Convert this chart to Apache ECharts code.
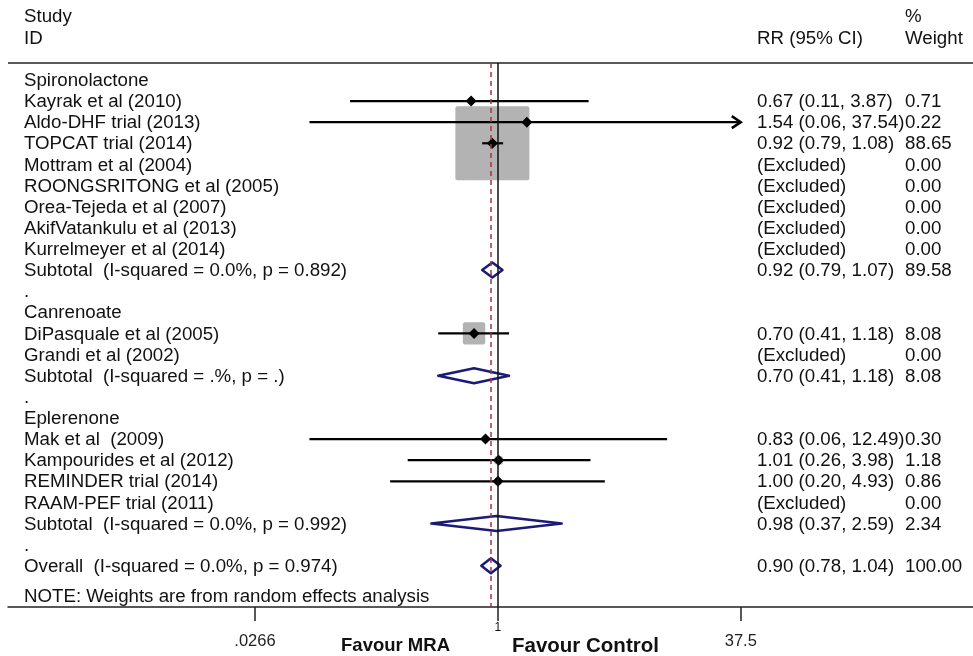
<!DOCTYPE html>
<html><head><meta charset="utf-8">
<script src="https://cdn.jsdelivr.net/npm/echarts@6/dist/echarts.min.js"></script>
<style>html,body{margin:0;padding:0;background:#fff}#c{width:973px;height:656px}</style>
</head><body><div id="c"></div>
<script>
// ---- data ----
const studyLabels = [
  'Spironolactone',
  'Kayrak et al (2010)',
  'Aldo-DHF trial (2013)',
  'TOPCAT trial (2014)',
  'Mottram et al (2004)',
  'ROONGSRITONG et al (2005)',
  'Orea-Tejeda et al (2007)',
  'AkifVatankulu et al (2013)',
  'Kurrelmeyer et al (2014)',
  'Subtotal  (I-squared = 0.0%, p = 0.892)',
  '.',
  'Canrenoate',
  'DiPasquale et al (2005)',
  'Grandi et al (2002)',
  'Subtotal  (I-squared = .%, p = .)',
  '.',
  'Eplerenone',
  'Mak et al  (2009)',
  'Kampourides et al (2012)',
  'REMINDER trial (2014)',
  'RAAM-PEF trial (2011)',
  'Subtotal  (I-squared = 0.0%, p = 0.992)',
  '.',
  'Overall  (I-squared = 0.0%, p = 0.974)'
];
const rowKinds = [
  'group','study','study','study','study','study','study','study','study','subtotal','blank',
  'group','study','study','subtotal','blank',
  'group','study','study','study','study','subtotal','blank','overall'
];
const estimates = [null,0.67,1.54,0.92,null,null,null,null,null,0.92,null,null,0.70,null,0.70,null,null,0.83,1.01,1.00,null,0.98,null,0.90];
const lowerCI   = [null,0.11,0.06,0.79,null,null,null,null,null,0.79,null,null,0.41,null,0.41,null,null,0.06,0.26,0.20,null,0.37,null,0.78];
const upperCI   = [null,3.87,37.54,1.08,null,null,null,null,null,1.07,null,null,1.18,null,1.18,null,null,12.49,3.98,4.93,null,2.59,null,1.04];
const weights   = [null,0.71,0.22,88.65,0,0,0,0,0,89.58,null,null,8.08,0,8.08,null,null,0.30,1.18,0.86,0,2.34,null,100.00];
const tickValues = [0.0266, 1, 37.5];
const tickLabels = ['.0266', '1', '37.5'];
const headerStudy = ['Study', 'ID'];
const headerRR = 'RR (95% CI)';
const headerWeight = ['%', 'Weight'];
const noteText = 'NOTE: Weights are from random effects analysis';
const favourLeft = 'Favour MRA';
const favourRight = 'Favour Control';

// ---- helpers ----
const FONT = '"Liberation Sans", Arial, sans-serif';
const FS = '18.7px ';
const TXT = '#111';
const NAVY = '#1a1a7a';
function rrText(i) {
  if (rowKinds[i] === 'group' || rowKinds[i] === 'blank') return '';
  if (estimates[i] == null) return '(Excluded)';
  return estimates[i].toFixed(2) + ' (' + lowerCI[i].toFixed(2) + ', ' + upperCI[i].toFixed(2) + ')';
}
function weightText(i) {
  return weights[i] == null ? '' : weights[i].toFixed(2);
}
const studyRows = [], pooledRows = [], allRows = [];
studyLabels.forEach((lab, i) => {
  allRows.push([i, 1]);
  if (estimates[i] == null) return;
  const item = [i, estimates[i], lowerCI[i], upperCI[i], weights[i]];
  if (rowKinds[i] === 'study') studyRows.push(item); else pooledRows.push(item);
});
const overallIdx = rowKinds.indexOf('overall');
const xLo = tickValues[0], xHi = tickValues[tickValues.length - 1];
const BOX_K = 7.86;

const chart = echarts.init(document.getElementById('c'), null, {renderer: 'canvas'});
chart.setOption({
  animation: false,
  backgroundColor: '#fff',
  grid: {left: 8, right: 0, top: 63, bottom: 49, containLabel: false},
  xAxis: {
    type: 'log', logBase: Math.E, min: 0.000667, max: 1200, position: 'bottom',
    axisLine: {show: true, onZero: false, lineStyle: {color: '#222', width: 1.5}},
    axisTick: {show: true, customValues: tickValues, length: 14, lineStyle: {color: '#222', width: 1.5}},
    axisLabel: {
      show: true, customValues: tickValues, margin: 15,
      formatter: function (v) {
        let k = 0, best = 1e9;
        tickValues.forEach((t, j) => { const d = Math.abs(Math.log(t) - Math.log(v)); if (d < best) { best = d; k = j; } });
        return tickValues[k] === 1 ? '{one|' + tickLabels[k] + '}' : '{big|' + tickLabels[k] + '}';
      },
      rich: {
        one: {fontSize: 12, fontFamily: FONT, color: TXT},
        big: {fontSize: 16.5, fontFamily: FONT, color: '#222', padding: [11, 0, 0, 0]}
      }
    },
    splitLine: {show: false}
  },
  yAxis: {type: 'value', inverse: true, min: -0.8, max: 24.95, show: false},
  graphic: [
    {type: 'line', shape: {x1: 8, y1: 63, x2: 973, y2: 63}, style: {stroke: '#222', lineWidth: 1.5}},
    {type: 'text', x: 24, y: 17, style: {text: headerStudy[0], font: FS + FONT, fill: TXT, verticalAlign: 'middle'}},
    {type: 'text', x: 24, y: 39, style: {text: headerStudy[1], font: FS + FONT, fill: TXT, verticalAlign: 'middle'}},
    {type: 'text', x: 757, y: 39, style: {text: headerRR, font: FS + FONT, fill: TXT, verticalAlign: 'middle'}},
    {type: 'text', x: 905, y: 17, style: {text: headerWeight[0], font: FS + FONT, fill: TXT, verticalAlign: 'middle'}},
    {type: 'text', x: 905, y: 39, style: {text: headerWeight[1], font: FS + FONT, fill: TXT, verticalAlign: 'middle'}},
    {type: 'text', x: 24, y: 597, style: {text: noteText, font: FS + FONT, fill: TXT, verticalAlign: 'middle'}},
    {type: 'text', x: 450, y: 646, style: {text: favourLeft, font: 'bold 18.5px ' + FONT, fill: TXT, align: 'right', verticalAlign: 'middle'}},
    {type: 'text', x: 512, y: 646, style: {text: favourRight, font: 'bold 20.5px ' + FONT, fill: TXT, verticalAlign: 'middle'}}
  ],
  series: [
    {
      type: 'scatter', data: [], z: 1, silent: true,
      markLine: {
        silent: true, symbol: ['none', 'none'], label: {show: false},
        data: [
          {xAxis: 1, lineStyle: {color: '#111', width: 1.5, type: 'solid'}},
          {xAxis: estimates[overallIdx], lineStyle: {color: '#a8323e', width: 1.5, type: [5, 4]}}
        ]
      }
    },
    {
      type: 'custom', z: 2, silent: true, data: studyRows, encode: {x: [1, 2, 3], y: 0},
      renderItem: function (params, api) {
        const row = api.value(0), est = api.value(1), w = api.value(4);
        const p = api.coord([est, row]);
        const s = BOX_K * Math.sqrt(w);
        return {type: 'rect', shape: {x: p[0] - s / 2, y: p[1] - s / 2, width: s, height: s, r: 2}, style: {fill: '#b3b3b3'}};
      }
    },
    {
      type: 'custom', z: 3, silent: true, data: studyRows, encode: {x: [1, 2, 3], y: 0},
      renderItem: function (params, api) {
        const row = api.value(0), est = api.value(1), lo = api.value(2), hi = api.value(3);
        const pe = api.coord([est, row]);
        const pl = api.coord([Math.max(lo, xLo), row]);
        const ph = api.coord([Math.min(hi, xHi), row]);
        const y = pe[1];
        const ch = [
          {type: 'line', shape: {x1: pl[0], y1: y, x2: ph[0], y2: y}, style: {stroke: '#000', lineWidth: 2.2}},
          {type: 'polygon', shape: {points: [[pe[0] - 5.5, y], [pe[0], y - 5.5], [pe[0] + 5.5, y], [pe[0], y + 5.5]]}, style: {fill: '#000'}}
        ];
        if (hi > xHi) ch.push({type: 'polyline', shape: {points: [[ph[0] - 9, y - 6], [ph[0], y], [ph[0] - 9, y + 6]]}, style: {stroke: '#000', lineWidth: 2.5, fill: 'none'}});
        return {type: 'group', children: ch};
      }
    },
    {
      type: 'custom', z: 4, silent: true, data: pooledRows, encode: {x: [1, 2, 3], y: 0},
      renderItem: function (params, api) {
        const row = api.value(0);
        const pe = api.coord([api.value(1), row]);
        const pl = api.coord([api.value(2), row]);
        const ph = api.coord([api.value(3), row]);
        const y = pe[1], h = 7.5;
        return {type: 'polygon', shape: {points: [[pl[0], y], [pe[0], y - h], [ph[0], y], [pe[0], y + h]]},
          style: {fill: '#fff', stroke: NAVY, lineWidth: 2.5, lineJoin: 'round'}};
      }
    },
    {
      type: 'custom', z: 5, silent: true, data: allRows, encode: {x: 1, y: 0},
      renderItem: function (params, api) {
        const i = api.value(0);
        const y = api.coord([1, i])[1];
        const font = FS + FONT;
        return {type: 'group', children: [
          {type: 'text', x: 24, y: y + 1, style: {text: studyLabels[i], font: font, fill: TXT, verticalAlign: 'middle'}},
          {type: 'text', x: 757, y: y + 1, style: {text: rrText(i), font: font, fill: TXT, verticalAlign: 'middle'}},
          {type: 'text', x: 905, y: y + 1, style: {text: weightText(i), font: font, fill: TXT, verticalAlign: 'middle'}}
        ]};
      }
    }
  ]
});
</script>
</body></html>
